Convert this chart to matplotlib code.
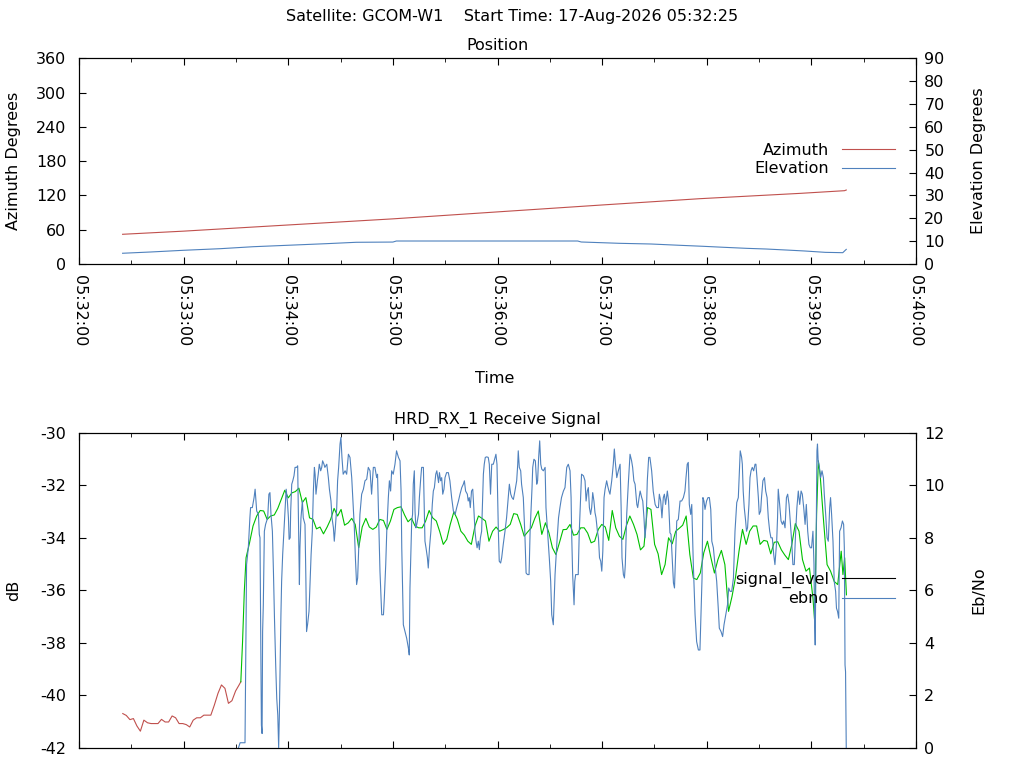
import matplotlib
matplotlib.use("Agg")
import matplotlib.pyplot as plt
from matplotlib.lines import Line2D

plt.rcParams['font.family'] = ['DejaVu Sans']
plt.rcParams['font.size'] = 11.5
plt.rcParams['axes.unicode_minus'] = False

# ---------------- data ----------------
time_ticks = [0, 60, 120, 180, 240, 300, 360, 420, 480]   # seconds after 05:32:00
time_labels = ["05:32:00", "05:33:00", "05:34:00", "05:35:00", "05:36:00",
               "05:37:00", "05:38:00", "05:39:00", "05:40:00"]

az_t = [25, 60, 120, 180, 240, 300, 356, 414, 439, 440]
azimuth = [52.0, 57.5, 68.3, 79.0, 91.2, 103.3, 114.3, 123.7, 128.3, 129.5]

el_t = [25, 41, 60, 81, 100, 120, 142, 159, 180, 182, 286, 288, 310, 328, 344,
        358, 370, 383, 394, 406, 416, 428, 438, 440]
elevation = [4.7, 5.25, 6.0, 6.7, 7.57, 8.2, 8.9, 9.5, 9.6, 10.06, 10.06, 9.63,
             9.05, 8.75, 8.2, 7.74, 7.3, 6.85, 6.56, 6.1, 5.7, 5.1, 4.95, 6.4]

# signal level before lock (red) and after (green), dB
sig_red_t = [25.1, 27.1, 29.2, 31.2, 33.2, 35.2, 37.2, 39.3, 41.3, 43.3, 45.3, 47.3,
             49.4, 51.4, 53.4, 55.4, 57.4, 59.5, 61.5, 63.5, 65.5, 67.5, 69.6, 71.6,
             73.6, 75.6, 77.6, 79.7, 81.7, 83.7, 85.7, 87.7, 89.8, 91.8, 92.8]
sig_red_db = [-40.69, -40.76, -40.92, -40.88, -41.16, -41.36, -40.94, -41.04, -41.07,
              -41.07, -41.07, -40.91, -41.01, -41.01, -40.78, -40.85, -41.07, -41.07,
              -41.11, -41.20, -40.94, -40.85, -40.85, -40.75, -40.75, -40.75, -40.37,
              -39.92, -39.60, -39.73, -40.30, -40.20, -39.83, -39.60, -39.48]

sig_grn_t = [92.8, 93.8, 94.8, 95.8, 97.8, 99.8, 101.9, 103.9, 105.9, 107.9, 109.9,
             112.0, 114.0, 116.0, 118.0, 120.0, 122.1, 124.1, 126.1, 128.1, 130.1,
             132.2, 134.2, 136.2, 138.2, 140.2, 142.3, 144.3, 146.3, 148.3, 150.3,
             152.3, 154.4, 156.4, 158.4, 160.4, 162.4, 164.5, 166.5, 168.5, 170.5,
             172.5, 174.6, 176.6, 178.6, 180.6, 182.6, 184.7, 186.7, 188.7, 190.7,
             192.7, 194.8, 196.8, 198.8, 200.8, 202.8, 204.9, 206.9, 208.9, 210.9,
             212.9, 215.0, 217.0, 219.0, 221.0, 223.0, 225.0, 227.1, 229.1, 231.1,
             233.1, 235.1, 237.2, 239.2, 241.2, 243.2, 245.2, 247.3, 249.3, 251.3,
             253.3, 255.3, 257.4, 259.4, 261.4, 263.4, 265.4, 267.5, 269.5, 271.5,
             273.5, 275.5, 277.6, 279.6, 281.6, 283.6, 285.6, 287.7, 289.7, 291.7,
             293.7, 295.7, 297.8, 299.8, 301.8, 303.8, 305.8, 307.8, 309.9, 311.9,
             313.9, 315.9, 318.0, 320.0, 322.0, 324.0, 326.0, 328.0, 330.1, 332.1,
             334.1, 336.1, 338.1, 340.2, 342.2, 344.2, 346.2, 348.2, 350.3, 352.3,
             354.3, 356.3, 358.3, 360.4, 362.4, 364.4, 366.4, 368.4, 370.4, 372.5,
             374.5, 376.5, 378.5, 380.5, 382.6, 384.6, 386.6, 388.6, 390.6, 392.7,
             394.7, 396.7, 398.7, 400.7, 402.8, 404.8, 406.8, 408.8, 410.8, 412.9,
             414.9, 416.9, 418.9, 420.9, 421.9, 423.0, 424.0, 425.0, 427.0, 429.0,
             431.0, 433.1, 435.1, 437.1, 438.1, 439.1, 440.1]
sig_grn_db = [-39.48, -37.95, -36.04, -34.76, -34.19, -33.55, -33.17, -32.96, -32.98,
              -33.30, -33.17, -33.13, -32.88, -32.54, -32.19, -32.48, -32.29, -32.24,
              -32.11, -32.66, -32.47, -33.24, -33.30, -33.66, -33.59, -33.85, -33.59,
              -33.30, -32.88, -33.17, -32.92, -33.52, -33.43, -33.26, -33.49, -34.38,
              -33.59, -33.26, -33.59, -33.68, -33.59, -33.30, -33.34, -33.68, -33.36,
              -32.92, -32.85, -32.82, -33.13, -33.39, -33.26, -33.55, -33.62, -33.62,
              -33.36, -32.96, -33.24, -33.36, -33.77, -34.25, -34.06, -33.49, -33.01,
              -33.30, -33.75, -33.90, -34.13, -34.25, -33.55, -33.17, -33.26, -33.36,
              -34.13, -33.75, -33.59, -33.75, -33.69, -33.62, -33.49, -33.08, -33.11,
              -33.49, -33.94, -33.77, -33.62, -33.26, -32.98, -33.87, -33.43, -33.81,
              -34.38, -34.64, -34.19, -33.69, -33.68, -33.49, -33.90, -33.87, -33.62,
              -33.62, -33.82, -34.19, -34.13, -33.68, -33.49, -33.59, -34.10, -32.96,
              -33.62, -33.94, -34.06, -33.54, -33.17, -33.49, -33.87, -34.46, -34.32,
              -32.85, -32.92, -34.25, -34.61, -35.40, -35.02, -34.00, -34.23, -33.75,
              -33.64, -33.52, -33.17, -34.64, -35.53, -35.59, -35.34, -34.57, -34.13,
              -34.76, -35.34, -34.83, -34.48, -35.02, -36.80, -36.23, -35.50, -34.51,
              -33.68, -34.25, -33.75, -33.55, -33.55, -34.25, -34.10, -34.13, -34.61,
              -34.17, -34.15, -34.46, -34.66, -34.83, -34.25, -33.46, -33.75, -34.83,
              -35.27, -35.15, -36.29, -37.18, -33.11, -31.07, -31.58, -33.36, -35.02,
              -35.27, -35.66, -35.78, -34.51, -35.40, -34.76, -36.17]

ebno_t = [91.4, 92.4, 95.2, 95.6, 96.1, 97.1, 98.0, 98.4, 99.4, 100.4, 101.0, 101.5,
          101.9, 102.9, 103.4, 103.8, 104.2, 104.6, 105.0, 105.3, 105.7, 106.3, 107.0,
          107.6, 108.2, 108.9, 109.5, 110.1, 110.9, 111.5, 112.1, 112.8, 113.4, 114.0,
          114.5, 114.9, 115.5, 115.8, 116.2, 116.8, 117.5, 118.2, 118.8, 119.5, 120.1,
          120.5, 121.1, 121.4, 122.0, 122.6, 123.3, 123.9, 124.8, 125.4, 125.8, 126.4,
          126.7, 127.3, 128.1, 128.6, 129.6, 130.1, 130.5, 131.1, 131.9, 132.5, 133.1,
          133.8, 134.4, 135.0, 135.4, 135.9, 136.7, 137.2, 137.8, 138.6, 139.2, 139.7,
          140.5, 141.0, 142.1, 143.0, 143.6, 144.5, 145.1, 145.9, 146.4, 147.0, 147.8,
          148.3, 148.9, 149.7, 150.2, 150.8, 151.5, 152.6, 153.5, 154.5, 155.4, 156.4,
          157.3, 157.9, 158.5, 159.2, 159.8, 160.4, 161.1, 162.1, 163.1, 164.0, 165.0,
          165.9, 166.9, 167.8, 168.8, 169.7, 170.7, 171.2, 172.0, 172.6, 173.6, 174.6,
          175.1, 175.9, 176.5, 177.4, 178.0, 178.7, 179.3, 180.2, 181.2, 182.1, 183.2,
          184.1, 184.7, 185.1, 185.7, 186.0, 187.0, 187.9, 188.9, 189.4, 189.8, 190.4,
          190.8, 191.3, 191.7, 192.3, 192.7, 193.2, 193.7, 194.7, 195.2, 196.0, 196.5,
          197.5, 197.9, 198.4, 199.0, 199.8, 200.3, 201.0, 201.8, 202.6, 203.2, 203.8,
          204.6, 205.2, 206.2, 206.7, 207.4, 208.0, 208.6, 209.3, 209.9, 210.8, 211.8,
          212.7, 213.7, 214.7, 215.7, 216.6, 217.6, 218.5, 219.5, 220.4, 221.0, 221.7,
          222.7, 223.2, 223.8, 224.4, 225.1, 225.8, 226.4, 227.1, 227.7, 228.3, 229.0,
          229.6, 230.2, 230.9, 231.9, 232.4, 233.0, 233.8, 234.7, 235.3, 236.0, 236.7,
          237.6, 238.6, 239.1, 239.7, 240.5, 241.0, 241.8, 242.4, 243.3, 244.3, 245.2,
          246.3, 246.8, 247.6, 248.3, 249.1, 250.0, 251.0, 251.6, 251.9, 252.5, 253.3,
          253.8, 254.8, 255.7, 256.4, 257.2, 258.1, 258.7, 259.8, 260.2, 260.9, 261.7,
          262.5, 263.0, 263.6, 264.2, 264.8, 265.4, 266.3, 267.3, 267.8, 268.7, 269.7,
          270.5, 271.1, 272.0, 272.5, 273.0, 274.0, 275.0, 275.8, 276.7, 277.8, 278.7,
          279.7, 280.6, 281.6, 282.2, 282.5, 283.1, 283.9, 284.3, 284.8, 286.3, 286.9,
          287.7, 288.2, 289.3, 290.2, 290.8, 291.5, 292.1, 292.7, 293.4, 294.0, 294.6,
          295.3, 295.9, 296.5, 297.3, 297.9, 298.5, 299.2, 299.8, 300.4, 301.1, 301.7,
          302.6, 303.2, 303.9, 304.5, 305.5, 306.4, 307.0, 307.5, 308.4, 309.3, 310.3,
          310.9, 311.4, 312.2, 312.8, 313.3, 314.1, 315.0, 316.0, 316.9, 317.5, 318.2,
          318.9, 319.9, 320.4, 321.2, 321.8, 322.7, 323.3, 324.0, 324.6, 325.2, 325.9,
          326.7, 327.4, 328.4, 329.3, 330.4, 331.3, 332.3, 332.8, 333.6, 334.3, 335.1,
          335.7, 336.4, 337.4, 338.1, 338.9, 339.5, 340.1, 340.9, 341.5, 342.0, 342.8,
          343.7, 344.7, 345.6, 346.6, 347.5, 348.1, 348.8, 349.4, 350.0, 350.8, 351.4,
          352.3, 353.3, 354.2, 355.2, 356.1, 356.7, 357.3, 357.8, 358.4, 359.0, 359.9,
          360.7, 361.5, 362.3, 362.9, 363.8, 364.7, 365.7, 366.6, 367.2, 368.2, 369.1,
          369.9, 370.9, 371.9, 372.6, 373.4, 374.3, 375.3, 376.2, 377.2, 378.1, 378.7,
          379.2, 380.0, 380.4, 380.9, 381.5, 382.3, 382.8, 383.4, 384.2, 384.8, 385.4,
          386.1, 386.9, 387.7, 388.2, 388.8, 389.6, 390.1, 390.9, 391.4, 392.2, 393.1,
          393.8, 394.6, 395.3, 396.1, 396.8, 397.6, 398.4, 399.1, 400.1, 400.6, 401.0,
          401.8, 402.6, 403.4, 404.1, 404.9, 405.7, 406.4, 407.2, 407.9, 408.7, 409.4,
          410.2, 411.0, 411.7, 412.5, 413.3, 414.1, 414.8, 415.6, 416.4, 417.1, 417.9,
          418.6, 419.4, 420.1, 420.9, 421.5, 421.8, 422.2, 422.6, 423.2, 423.5, 423.9,
          424.6, 425.3, 426.1, 426.9, 427.4, 428.2, 429.0, 429.7, 430.5, 431.0, 431.6,
          432.4, 433.1, 433.9, 434.4, 435.0, 435.7, 436.2, 437.0, 437.8, 438.5, 438.9,
          439.3, 439.6, 440.0]
ebno = [0.0, 0.20, 0.20, 3.16, 6.98, 7.62, 8.76, 9.15, 9.15, 9.53, 9.85, 9.40,
        9.02, 8.89, 8.13, 8.00, 4.43, 0.87, 0.55, 4.43, 5.45, 8.25, 8.51,
        8.64, 8.76, 9.66, 9.72, 8.89, 8.25, 6.73, 4.94, 3.16, 1.89, 1.25,
        0.0, 1.25, 3.92, 5.07, 6.34, 7.36, 8.25, 9.15, 9.85, 9.40, 8.76,
        7.94, 8.00, 9.02, 10.04, 10.17, 10.36, 10.68, 10.68, 10.74, 8.89, 6.22,
        7.62, 8.76, 9.40, 8.76, 8.51, 6.47, 4.43, 4.71, 5.20, 6.34, 7.36,
        8.25, 9.78, 10.68, 10.42, 9.66, 10.17, 10.42, 10.80, 10.55, 10.68, 10.93,
        10.80, 10.68, 10.80, 10.29, 9.85, 9.40, 8.76, 8.38, 7.87, 8.38, 9.15,
        10.17, 10.68, 11.57, 11.82, 11.06, 10.42, 10.55, 10.42, 11.18, 11.06, 10.29,
        9.15, 8.38, 7.24, 6.22, 6.47, 7.62, 8.89, 9.66, 9.85, 10.17, 10.23,
        10.68, 10.55, 9.66, 10.68, 10.68, 10.29, 10.42, 8.25, 6.73, 5.07, 5.07,
        5.71, 6.98, 8.25, 9.53, 10.17, 9.78, 10.55, 10.42, 10.80, 11.31, 11.06,
        10.93, 9.78, 7.62, 5.58, 4.69, 4.43, 4.18, 3.80, 3.54, 6.09, 7.62,
        8.64, 8.89, 10.04, 10.55, 9.02, 8.38, 8.51, 8.89, 9.53, 10.29, 10.68,
        10.68, 9.34, 7.87, 7.62, 7.24, 6.85, 7.62, 8.25, 9.27, 9.78, 9.91,
        10.42, 10.55, 10.10, 10.48, 10.17, 10.29, 9.66, 9.85, 10.29, 10.48, 10.48,
        10.17, 9.53, 9.02, 8.89, 9.15, 9.40, 9.66, 9.91, 10.04, 10.17, 9.78,
        9.66, 9.40, 9.53, 9.15, 9.78, 9.85, 9.15, 8.25, 7.87, 7.62, 7.87,
        7.55, 8.00, 8.25, 10.42, 10.80, 11.06, 11.08, 11.06, 10.80, 9.66, 10.80,
        10.80, 11.06, 11.18, 10.80, 8.25, 7.11, 7.04, 7.24, 7.75, 8.25, 8.76,
        9.66, 10.04, 9.66, 9.53, 9.46, 9.78, 10.17, 10.80, 11.31, 10.68, 10.55,
        10.04, 9.53, 8.13, 6.66, 6.60, 6.60, 8.25, 9.91, 10.68, 10.99, 10.93,
        10.04, 10.17, 11.06, 11.69, 10.80, 10.61, 10.55, 10.68, 9.15, 8.25, 7.24,
        6.34, 5.07, 4.69, 5.71, 6.60, 7.75, 8.76, 9.15, 9.53, 9.78, 9.91,
        10.68, 10.80, 10.55, 9.53, 8.25, 6.60, 5.45, 6.34, 6.60, 6.60, 8.25,
        9.53, 10.42, 10.36, 10.17, 9.40, 9.78, 9.91, 9.15, 8.89, 9.15, 9.72,
        9.40, 8.96, 8.76, 8.25, 8.00, 7.24, 7.11, 6.73, 7.49, 9.53, 9.85,
        10.17, 9.97, 9.78, 9.66, 10.17, 10.80, 11.38, 10.93, 10.29, 10.55, 10.80,
        9.15, 7.24, 6.60, 6.47, 6.98, 8.89, 10.04, 11.18, 10.93, 10.68, 10.17,
        10.04, 9.27, 9.15, 9.53, 9.78, 9.53, 9.40, 8.76, 8.00, 8.51, 10.17,
        11.06, 11.06, 10.55, 9.78, 9.27, 9.15, 9.15, 9.66, 9.40, 8.76, 9.53,
        9.66, 9.27, 9.78, 9.40, 8.19, 8.13, 7.36, 6.28, 6.09, 7.11, 8.64,
        8.70, 9.40, 9.40, 9.53, 9.78, 10.29, 10.80, 10.87, 9.27, 8.89, 9.27,
        6.98, 5.07, 4.05, 3.73, 3.73, 5.07, 6.47, 9.53, 9.40, 9.08, 9.40,
        9.53, 9.53, 9.08, 7.87, 7.62, 6.98, 6.34, 5.32, 4.56, 4.43, 4.24,
        4.69, 5.07, 5.45, 6.09, 5.96, 5.96, 6.47, 8.25, 9.34, 9.53, 10.55,
        11.31, 11.06, 10.80, 9.78, 9.15, 8.64, 8.25, 8.38, 9.27, 10.29, 10.55,
        10.68, 10.55, 10.80, 10.80, 10.29, 9.53, 8.89, 9.02, 9.53, 10.17, 10.29,
        9.78, 9.53, 8.76, 8.25, 8.00, 8.00, 7.36, 6.98, 7.87, 8.76, 9.85,
        9.27, 8.64, 8.51, 8.64, 8.38, 9.53, 9.66, 9.27, 8.64, 7.87, 6.98,
        6.98, 8.25, 9.15, 9.78, 9.27, 9.78, 9.66, 9.15, 8.51, 9.27, 8.25,
        7.75, 7.62, 7.62, 8.25, 6.98, 4.94, 3.92, 6.98, 11.31, 11.57, 10.93,
        10.68, 10.29, 10.55, 10.29, 9.66, 8.89, 8.00, 7.87, 9.15, 9.53, 8.89,
        7.87, 6.34, 5.96, 5.32, 5.20, 4.94, 8.25, 8.38, 8.64, 8.51, 7.62,
        3.16, 2.90, 0.0]

RED = '#c0504d'
BLUE = '#4f81bd'
GREEN = '#00c000'

W, H = 1024, 768
fig = plt.figure(figsize=(W / 100, H / 100), dpi=100)

L, R = 79, 916
ax1 = fig.add_axes([L / W, 1 - 264 / H, (R - L) / W, (264 - 58.3) / H])
ax2 = fig.add_axes([L / W, 1 - 748 / H, (R - L) / W, (748 - 432.7) / H])
ax1b = ax1.twinx()
ax2b = ax2.twinx()

lw = 0.8
l_az, = ax1.plot(az_t, azimuth, color=RED, lw=lw, label='Azimuth')
l_el, = ax1b.plot(el_t, elevation, color=BLUE, lw=lw, label='Elevation')

ax2.plot(sig_red_t, sig_red_db, color=RED, lw=lw)
ax2.plot(sig_grn_t, sig_grn_db, color=GREEN, lw=lw)
ax2b.plot(ebno_t, ebno, color=BLUE, lw=lw)

for ax in (ax1, ax2):
    ax.set_xlim(time_ticks[0], time_ticks[-1])
    ax.set_xticks(time_ticks)
    ax.set_xticks([t + 30 for t in time_ticks[:-1]], minor=True)
    ax.tick_params(axis='x', which='both', direction='in', top=True, bottom=True)
    ax.tick_params(axis='x', which='major', length=5)
    ax.tick_params(axis='x', which='minor', length=3)
    ax.tick_params(axis='y', direction='in', length=5, right=False, pad=9)

for ax in (ax1b, ax2b):
    ax.tick_params(axis='y', direction='in', length=5, pad=6)

for ax in (ax1, ax1b, ax2, ax2b):
    for s in ax.spines.values():
        s.set_linewidth(0.8)

ax1.set_xticklabels(time_labels, rotation=270, ha='center', va='top')
ax1.tick_params(axis='x', which='major', pad=8)
ax2.tick_params(axis='x', labelbottom=False)

ax1.set_ylim(0, 360)
ax1.set_yticks(range(0, 361, 60))
ax1b.set_ylim(0, 90)
ax1b.set_yticks(range(0, 91, 10))
ax2.set_ylim(-42, -30)
ax2.set_yticks(range(-42, -29, 2))
ax2b.set_ylim(0, 12)
ax2b.set_yticks(range(0, 13, 2))

# texts
fig.text(512 / W, 1 - 17 / H, "Satellite: GCOM-W1    Start Time: 17-Aug-2026 05:32:25",
         ha='center', va='center')
fig.text(497 / W, 1 - 46 / H, "Position", ha='center', va='center')
fig.text(495 / W, 1 - 379 / H, "Time", ha='center', va='center')
fig.text(497 / W, 1 - 420 / H, "HRD_RX_1 Receive Signal", ha='center', va='center')
fig.text(14 / W, 1 - 161 / H, "Azimuth Degrees", rotation=90, ha='center', va='center')
fig.text(979 / W, 1 - 161 / H, "Elevation Degrees", rotation=90, ha='center', va='center')
fig.text(14 / W, 1 - 590 / H, "dB", rotation=90, ha='center', va='center')
fig.text(979 / W, 1 - 590 / H, "Eb/No", rotation=90, ha='center', va='center')

leg_kw = dict(loc='center right', markerfirst=False, frameon=False,
              handlelength=3.3, handletextpad=0.85, borderpad=0, borderaxespad=0,
              labelspacing=0.2, bbox_transform=fig.transFigure)
ax1b.legend([l_az, l_el], ['Azimuth', 'Elevation'],
            bbox_to_anchor=(895 / W, 1 - 159.5 / H), **leg_kw)
h_sig = Line2D([], [], color='black', lw=lw)
h_eb = Line2D([], [], color=BLUE, lw=lw)
ax2b.legend([h_sig, h_eb], ['signal_level', 'ebno'],
            bbox_to_anchor=(895 / W, 1 - 589 / H), **leg_kw)

fig.savefig("out.png", dpi=100)
